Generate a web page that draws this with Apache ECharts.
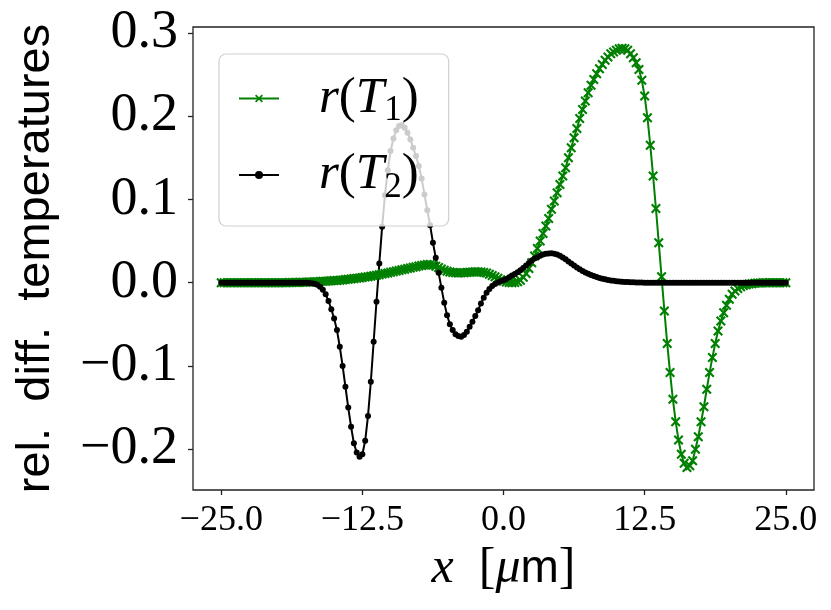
<!DOCTYPE html>
<html>
<head>
<meta charset="utf-8">
<script src="https://cdn.jsdelivr.net/npm/echarts@6.0.0/dist/echarts.min.js"></script>
<style>
  html, body { margin: 0; padding: 0; background: #fff; }
  #chart { width: 831px; height: 610px; }
</style>
</head>
<body>
<div id="chart"></div>
<script>
// sample positions [um]
const xs = [
  -25, -24.75, -24.5, -24.25, -24, -23.75, -23.5, -23.25,
  -23, -22.75, -22.5, -22.25, -22, -21.75, -21.5, -21.25,
  -21, -20.75, -20.5, -20.25, -20, -19.75, -19.5, -19.25,
  -19, -18.75, -18.5, -18.25, -18, -17.75, -17.5, -17.25,
  -17, -16.75, -16.5, -16.25, -16, -15.75, -15.5, -15.25,
  -15, -14.75, -14.5, -14.25, -14, -13.75, -13.5, -13.25,
  -13, -12.75, -12.5, -12.25, -12, -11.75, -11.5, -11.25,
  -11, -10.75, -10.5, -10.25, -10, -9.75, -9.5, -9.25,
  -9, -8.75, -8.5, -8.25, -8, -7.75, -7.5, -7.25,
  -7, -6.75, -6.5, -6.25, -6, -5.75, -5.5, -5.25,
  -5, -4.75, -4.5, -4.25, -4, -3.75, -3.5, -3.25,
  -3, -2.75, -2.5, -2.25, -2, -1.75, -1.5, -1.25,
  -1, -0.75, -0.5, -0.25, 0, 0.25, 0.5, 0.75,
  1, 1.25, 1.5, 1.75, 2, 2.25, 2.5, 2.75,
  3, 3.25, 3.5, 3.75, 4, 4.25, 4.5, 4.75,
  5, 5.25, 5.5, 5.75, 6, 6.25, 6.5, 6.75,
  7, 7.25, 7.5, 7.75, 8, 8.25, 8.5, 8.75,
  9, 9.25, 9.5, 9.75, 10, 10.25, 10.5, 10.75,
  11, 11.25, 11.5, 11.75, 12, 12.25, 12.5, 12.75,
  13, 13.25, 13.5, 13.75, 14, 14.25, 14.5, 14.75,
  15, 15.25, 15.5, 15.75, 16, 16.25, 16.5, 16.75,
  17, 17.25, 17.5, 17.75, 18, 18.25, 18.5, 18.75,
  19, 19.25, 19.5, 19.75, 20, 20.25, 20.5, 20.75,
  21, 21.25, 21.5, 21.75, 22, 22.25, 22.5, 22.75,
  23, 23.25, 23.5, 23.75, 24, 24.25, 24.5, 24.75,
  25
];

// r(T1)
const rT1 = [
  0, 0, 0, 0, 0, 0, 0, 0,
  0, 0, 0, 0, 0, 0, 0, 0,
  0, 0, 0, 0, 0, 0, 0, 0,
  0.0001, 0.0001, 0.0002, 0.0003, 0.0004, 0.0005, 0.0006, 0.0007,
  0.0009, 0.001, 0.0012, 0.0014, 0.0016, 0.0018, 0.002, 0.0022,
  0.0025, 0.0027, 0.003, 0.0033, 0.0037, 0.0041, 0.0045, 0.0049,
  0.0053, 0.0057, 0.0062, 0.0067, 0.0072, 0.0077, 0.0083, 0.0089,
  0.0096, 0.0103, 0.011, 0.0117, 0.0125, 0.0132, 0.014, 0.0147,
  0.0155, 0.0162, 0.017, 0.0177, 0.0185, 0.0192, 0.0199, 0.0206,
  0.0212, 0.0217, 0.0218, 0.0211, 0.0198, 0.0181, 0.0164, 0.0149,
  0.0137, 0.0128, 0.0122, 0.0118, 0.0117, 0.0118, 0.012, 0.0123,
  0.0126, 0.0128, 0.013, 0.013, 0.0128, 0.0123, 0.0115, 0.0102,
  0.0087, 0.007, 0.0052, 0.0035, 0.002, 0.0008, 0.0002, 0,
  0.0002, 0.0012, 0.003, 0.0065, 0.011, 0.017, 0.024, 0.032,
  0.041, 0.05, 0.059, 0.068, 0.077, 0.088, 0.098, 0.108,
  0.118, 0.128, 0.138, 0.15, 0.162, 0.174, 0.185, 0.197,
  0.208, 0.218, 0.228, 0.237, 0.244, 0.251, 0.257, 0.262,
  0.267, 0.271, 0.275, 0.277, 0.279, 0.281, 0.2815, 0.281,
  0.279, 0.275, 0.27, 0.264, 0.256, 0.243, 0.224, 0.198,
  0.165, 0.128, 0.089, 0.048, 0.007, -0.034, -0.073, -0.108,
  -0.14, -0.167, -0.189, -0.206, -0.217, -0.222, -0.22, -0.214,
  -0.2, -0.185, -0.167, -0.149, -0.128, -0.108, -0.09, -0.073,
  -0.058, -0.046, -0.036, -0.027, -0.02, -0.014, -0.01, -0.007,
  -0.005, -0.0035, -0.0025, -0.0017, -0.0012, -0.0008, -0.0005, -0.0003,
  -0.0002, -0.0001, 0, 0, 0, 0, 0, 0,
  0
];

// r(T2)
const rT2 = [
  0, 0, 0, 0, 0, 0, 0, 0,
  0, 0, 0, 0, 0, 0, 0, 0,
  0, 0, 0, 0, 0, 0, 0, 0,
  0, 0, 0, 0, 0, 0, 0, -0.0003,
  -0.0006, -0.0012, -0.0025, -0.0048, -0.0085, -0.014, -0.022, -0.032,
  -0.043, -0.057, -0.077, -0.1, -0.125, -0.15, -0.173, -0.193,
  -0.204, -0.209, -0.206, -0.19, -0.16, -0.119, -0.071, -0.023,
  0.023, 0.067, 0.105, 0.135, 0.158, 0.173, 0.183, 0.188,
  0.189, 0.186, 0.18, 0.172, 0.162, 0.152, 0.14, 0.125,
  0.106, 0.087, 0.069, 0.048, 0.03, 0.012, -0.006, -0.024,
  -0.039, -0.05, -0.057, -0.062, -0.064, -0.065, -0.063, -0.059,
  -0.053, -0.047, -0.04, -0.033, -0.025, -0.018, -0.012, -0.0075,
  -0.004, -0.0015, 0.0003, 0.0018, 0.003, 0.0045, 0.0065, 0.0085,
  0.0105, 0.0125, 0.015, 0.0175, 0.0205, 0.0235, 0.0265, 0.029,
  0.0305, 0.0323, 0.0337, 0.0346, 0.0351, 0.0352, 0.0348, 0.0338,
  0.0323, 0.0303, 0.028, 0.0255, 0.023, 0.0205, 0.0182, 0.016,
  0.014, 0.0122, 0.0106, 0.0092, 0.0079, 0.0067, 0.0057, 0.0048,
  0.004, 0.0033, 0.0027, 0.0022, 0.0018, 0.0014, 0.0011, 0.0009,
  0.0007, 0.0005, 0.0004, 0.0003, 0.0002, 0.0001, 0, 0,
  0, 0, 0, 0, 0, 0, 0, 0,
  0, 0, 0, 0, 0, 0, 0, 0,
  0, 0, 0, 0, 0, 0, 0, 0,
  0, 0, 0, 0, 0, 0, 0, 0,
  0, 0, 0, 0, 0, 0, 0, 0,
  0, 0, 0, 0, 0, 0, 0, 0,
  0
];

const xTicks = [-25, -12.5, 0, 12.5, 25];
const yTicks = [-0.2, -0.1, 0, 0.1, 0.2, 0.3];

const serif = '"Liberation Serif", "DejaVu Serif", serif';
const sans = '"Liberation Sans", "DejaVu Sans", sans-serif';
const axisColor = '#222';

// matplotlib-like "x" marker as a filled cross
const crossPath = 'path://M1.8,0 L6,4.2 L10.2,0 L12,1.8 L7.8,6 L12,10.2 L10.2,12 L6,7.8 L1.8,12 L0,10.2 L4.2,6 L0,1.8 Z';

const fmtNum = (v) => (v < 0 ? '\u2212' : '') + Math.abs(v).toFixed(1);

const chart = echarts.init(document.getElementById('chart'));

const options = {
    animation: false,
    backgroundColor: '#fff',
    grid: {
        left: 193,
        right: 17,
        top: 27,
        bottom: 120,
        outerBoundsMode: 'none',
        show: true,
        borderColor: axisColor,
        borderWidth: 1.3,
        backgroundColor: 'transparent'
    },
    legend: {
        orient: 'vertical',
        left: 219,
        top: 54,
        padding: [19, 30, 21, 19],
        itemGap: 21,
        itemWidth: 40,
        itemHeight: 10,
        backgroundColor: 'rgba(255,255,255,0.8)',
        borderColor: '#d0d0d0',
        borderWidth: 1.2,
        borderRadius: 7,
        data: ['T1', 'T2'],
        formatter: (name) => '{i|r}{p|(}{i|T}{s|' + name.slice(1) + '}{p|)}',
        textStyle: {
            padding: [0, 0, 0, 35],
            rich: {
                i: {fontFamily: serif, fontStyle: 'italic', fontSize: 51, lineHeight: 60, color: '#000'},
                p: {fontFamily: serif, fontSize: 51, lineHeight: 60, color: '#000'},
                s: {fontFamily: serif, fontSize: 35, lineHeight: 60, verticalAlign: 'bottom', color: '#000'}
            }
        }
    },
    xAxis: {
        type: 'value',
        min: -27.5,
        max: 27.5,
        splitLine: {show: false},
        axisLine: {show: false, onZero: false},
        axisTick: {
            show: true,
            length: 5,
            customValues: xTicks,
            lineStyle: {color: axisColor, width: 1.3}
        },
        axisLabel: {
            customValues: xTicks,
            formatter: fmtNum,
            margin: 13,
            fontFamily: serif,
            fontSize: 36,
            color: '#000'
        },
        name: '{i|x}{p|\u00a0\u00a0}{p|[}{i|\u03bc}{s|m}{p|]}',
        nameLocation: 'middle',
        nameGap: 50,
        nameTextStyle: {
            rich: {
                i: {fontFamily: serif, fontStyle: 'italic', fontSize: 50, lineHeight: 56, color: '#000'},
                p: {fontFamily: serif, fontSize: 50, lineHeight: 56, color: '#000'},
                s: {fontFamily: sans, fontSize: 46, lineHeight: 56, color: '#000'}
            }
        }
    },
    yAxis: {
        type: 'value',
        min: -0.249,
        max: 0.307,
        splitLine: {show: false},
        axisLine: {show: false, onZero: false},
        axisTick: {
            show: true,
            length: 5,
            customValues: yTicks,
            lineStyle: {color: axisColor, width: 1.3}
        },
        axisLabel: {
            customValues: yTicks,
            formatter: fmtNum,
            margin: 15,
            fontFamily: serif,
            fontSize: 54,
            color: '#000'
        },
        name: 'rel.  diff.  temperatures',
        nameLocation: 'middle',
        nameGap: 133,
        nameTextStyle: {
            fontFamily: sans,
            fontSize: 47,
            color: '#000'
        }
    },
    series: [
        {
            name: 'T1',
            type: 'line',
            data: xs.map((x, i) => [x, rT1[i]]),
            symbol: crossPath,
            symbolSize: 10,
            showAllSymbol: true,
            itemStyle: {color: '#008000'},
            lineStyle: {color: '#008000', width: 2}
        },
        {
            name: 'T2',
            type: 'line',
            data: xs.map((x, i) => [x, rT2[i]]),
            symbol: 'circle',
            symbolSize: 6,
            showAllSymbol: true,
            itemStyle: {color: '#000'},
            lineStyle: {color: '#000', width: 2}
        }
    ]
};

chart.setOption(options);
</script>
</body>
</html>
